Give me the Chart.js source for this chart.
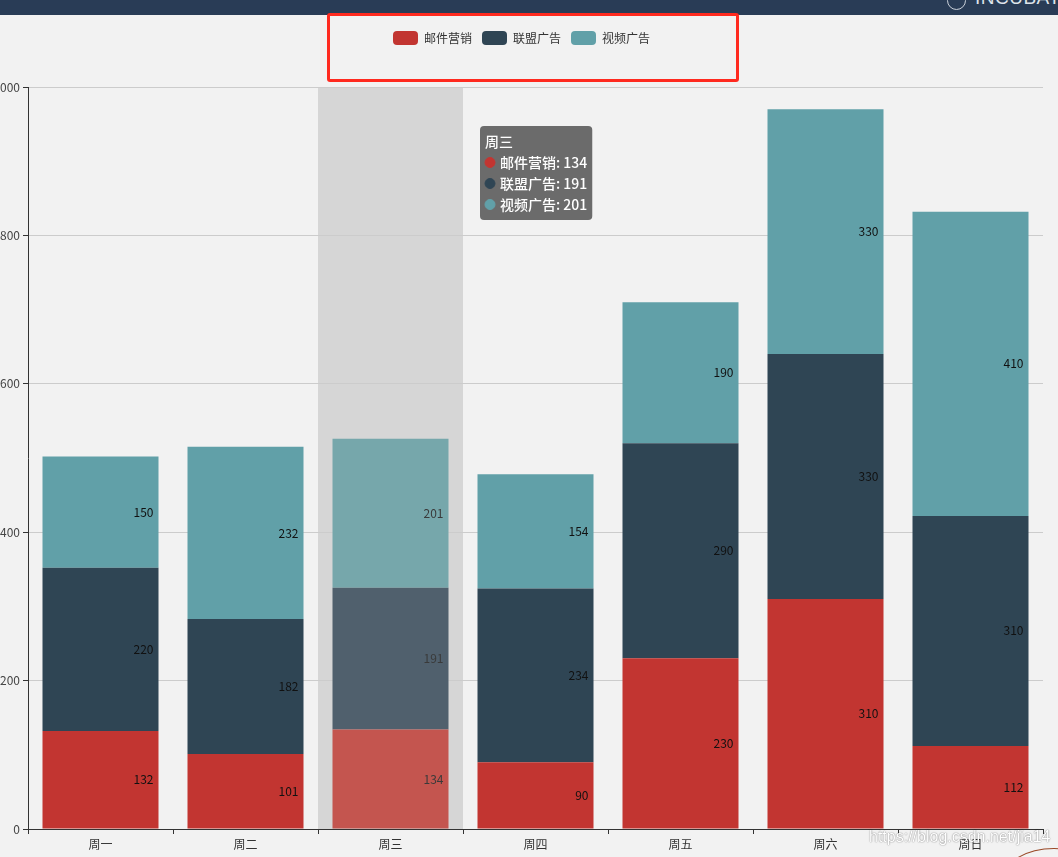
<!DOCTYPE html>
<html>
<head>
<meta charset="utf-8">
<script src="https://cdn.jsdelivr.net/npm/chart.js@4/dist/chart.umd.min.js"></script>
<style>
  html, body { margin: 0; padding: 0; background: #f2f2f2; overflow: hidden; }
  #wrap { position: relative; width: 1058px; height: 857px; }
  #c { position: absolute; left: 0; top: 0; }
  #hdr { position: absolute; left: 0; top: 0; width: 1058px; height: 15px; background: #293c56; overflow: hidden; z-index: 3; }
  #hdr .t { position: absolute; left: 975px; top: -13px; font: 19px 'Liberation Sans', Arial, sans-serif; color: #dfe4ea; letter-spacing: 0.5px; }
  #hdr .ic { position: absolute; left: 947px; top: -9px; width: 17px; height: 17px; border: 1.5px solid #c9d0d9; border-radius: 50%; }
  #box { position: absolute; left: 327px; top: 13px; width: 406px; height: 63px; border: 3px solid #ff2a1f; border-radius: 3px; z-index: 3; }
  #wm { position: absolute; left: 869px; top: 828px; font: 16px 'Liberation Sans', Arial, sans-serif; color: #ffffff; text-shadow: 0 0 1px rgba(0,0,0,0.5), 0 0 2px rgba(0,0,0,0.25); z-index: 3; white-space: nowrap; }
  #arc { position: absolute; left: 1003px; top: 848px; width: 100px; height: 60px; border: 1.5px solid #9a4a28; border-radius: 50%; z-index: 3; }
</style>
</head>
<body>
<div id="wrap">
  <canvas id="c" width="1058" height="857"></canvas>
  <div id="hdr"><div class="ic"></div><div class="t">INCUBATOR</div></div>
  <div id="box"></div>
  <div id="wm">https://blog.csdn.net/jia14</div>
  <div id="arc"></div>
</div>
<script>
// ---- data ----
const categories = ['周一', '周二', '周三', '周四', '周五', '周六', '周日'];
const seriesNames = ['邮件营销', '联盟广告', '视频广告'];
const emailValues = [132, 101, 134, 90, 230, 310, 112];
const allianceValues = [220, 182, 191, 234, 290, 330, 310];
const videoValues = [150, 232, 201, 154, 190, 330, 410];
const yTicks = [0, 200, 400, 600, 800, 1000];
const activeIndex = 2; // 周三 highlighted

// ---- styles ----
const baseColors = ['#c23531', '#2f4554', '#61a0a8'];
const emphColors = ['#c4554f', '#50606d', '#76a7ab'];
const FONT = "'Microsoft YaHei','Noto Sans CJK SC','Noto Sans',sans-serif";

function colorsFor(si) {
  return categories.map((_, i) => i === activeIndex ? emphColors[si] : baseColors[si]);
}

const seriesValues = [emailValues, allianceValues, videoValues];
const datasets = seriesValues.map((vals, si) => ({
  label: seriesNames[si],
  data: vals,
  backgroundColor: colorsFor(si),
  hoverBackgroundColor: colorsFor(si),
  borderWidth: 0,
  barPercentage: 0.8,
  categoryPercentage: 1.0
}));

Chart.defaults.font.family = FONT;
Chart.defaults.font.size = 12;
Chart.defaults.color = '#333';

Chart.Tooltip.positioners.echarts = function (items) {
  const c = this.chart;
  const xs = c.scales.x;
  if (!items.length) return false;
  const i = items[0].index;
  const half = (xs.getPixelForValue(1) - xs.getPixelForValue(0)) / 2;
  return { x: xs.getPixelForValue(i) + half + 21, y: c.chartArea.top + 39 };
};

const shadowPlugin = {
  id: 'axisShadow',
  beforeDraw(chart) {
    const xs = chart.scales.x, ca = chart.chartArea;
    const half = (xs.getPixelForValue(1) - xs.getPixelForValue(0)) / 2;
    const cx = xs.getPixelForValue(activeIndex);
    const ctx = chart.ctx;
    ctx.save();
    ctx.fillStyle = 'rgba(150,150,150,0.3)';
    ctx.fillRect(cx - half, ca.top, half * 2, ca.bottom - ca.top);
    ctx.restore();
  }
};

const labelPlugin = {
  id: 'barLabels',
  afterDatasetsDraw(chart) {
    const ctx = chart.ctx;
    ctx.save();
    ctx.font = '12px ' + FONT;
    ctx.textAlign = 'right';
    ctx.textBaseline = 'middle';
    chart.data.datasets.forEach((ds, di) => {
      const meta = chart.getDatasetMeta(di);
      meta.data.forEach((bar, i) => {
        const p = bar.getProps(['x', 'y', 'base', 'width'], true);
        ctx.fillStyle = i === activeIndex ? '#3a3a3a' : '#111';
        ctx.fillText(String(ds.data[i]), p.x + p.width / 2 - 5, (p.y + p.base) / 2);
      });
    });
    ctx.restore();
  }
};

const legendSpacer = {
  id: 'legendSpacer',
  afterInit(chart) {
    const lg = chart.legend;
    if (lg && !lg._spaced) {
      const f = lg.fit;
      lg.fit = function () { f.call(this); this.height += 32; };
      lg._spaced = true;
    }
  }
};

const chart = new Chart(document.getElementById('c'), {
  type: 'bar',
  data: { labels: categories, datasets },
  plugins: [shadowPlugin, labelPlugin, legendSpacer],
  options: {
    responsive: false,
    animation: false,
    devicePixelRatio: 1,
    layout: { padding: { top: 21, right: 15, bottom: 0, left: 0 } },
    interaction: { mode: 'index', intersect: false },
    events: [],
    plugins: {
      legend: {
        position: 'top',
        labels: {
          boxWidth: 25, boxHeight: 14, padding: 10,
          useBorderRadius: true, borderRadius: 4,
          color: '#333', font: { size: 12, family: FONT }
        }
      },
      tooltip: {
        enabled: true,
        mode: 'index',
        position: 'echarts',
        xAlign: 'left', yAlign: 'top',
        caretSize: 0, caretPadding: 0, cornerRadius: 4,
        backgroundColor: 'rgba(50,50,50,0.7)',
        titleColor: '#fff', bodyColor: '#fff',
        titleFont: { size: 14, weight: '500', lineHeight: 1.5, family: FONT },
        bodyFont: { size: 14, weight: '500', lineHeight: 1.5, family: FONT },
        titleMarginBottom: 0, bodySpacing: 0,
        padding: { top: 5, bottom: 5, left: 5, right: 5 },
        displayColors: true, usePointStyle: true,
        boxWidth: 10, boxHeight: 10, boxPadding: 3,
        multiKeyBackground: 'rgba(0,0,0,0)',
        callbacks: {
          labelColor(ctx) { const c = baseColors[ctx.datasetIndex]; return { borderColor: c, backgroundColor: c }; },
          labelPointStyle() { return { pointStyle: 'circle', rotation: 0 }; }
        }
      }
    },
    scales: {
      x: {
        stacked: true,
        afterFit(s) { s.height = 28; },
        grid: { display: true, drawOnChartArea: false, offset: true, tickLength: 5, tickColor: '#333' },
        border: { display: true, color: '#333', width: 1 },
        ticks: { padding: 3, color: '#333', font: { size: 12 } }
      },
      y: {
        stacked: true,
        min: 0, max: 1000,
        afterFit(s) { s.width = 28; },
        afterBuildTicks(s) { s.ticks = yTicks.map(v => ({ value: v })); },
        grid: { color: '#cccccc', tickLength: 5, tickColor: '#333' },
        border: { display: true, color: '#333', width: 1 },
        ticks: { padding: 3, color: '#444', font: { size: 12 } }
      }
    }
  }
});

chart.tooltip.setActiveElements(
  datasets.map((_, di) => ({ datasetIndex: di, index: activeIndex })),
  { x: 0, y: 0 }
);
chart.update();
</script>
</body>
</html>
